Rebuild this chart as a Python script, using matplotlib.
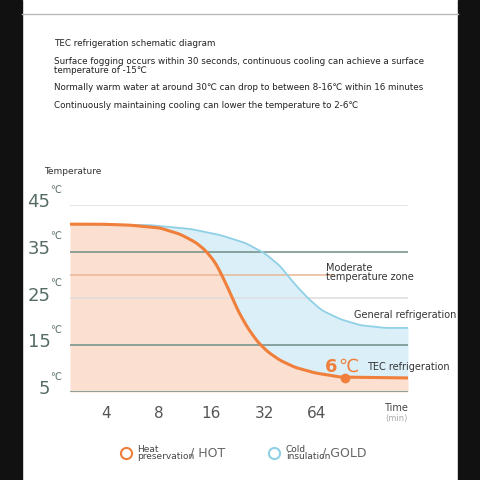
import numpy as np
import matplotlib.pyplot as plt
from matplotlib.patches import Rectangle

# data (x in tick units: 1=4min ... 5=64min)
tick_pos = [1, 2, 3, 4, 5]
tick_lab = ["4", "8", "16", "32", "64"]
temp_ticks = [45, 35, 25, 15, 5]

hot_x = [0.32, 0.89, 1.45, 2.02, 2.40, 2.69, 2.88, 3.07, 3.20, 3.35, 3.50, 3.69, 3.88,
         4.07, 4.30, 4.58, 4.96, 5.44, 6.73]
hot_t = [40.9, 40.9, 40.7, 40.1, 38.8, 37.1, 35.4, 32.8, 30.0, 26.4, 22.5, 18.7, 15.7,
         13.6, 11.8, 10.3, 9.1, 8.2, 8.0]
cold_x = [0.32, 1.83, 2.59, 3.16, 3.64, 4.01, 4.30, 4.58, 4.83, 5.09, 5.44, 5.82, 6.29, 6.73]
cold_t = [40.9, 40.7, 39.9, 38.6, 36.9, 34.7, 32.0, 28.1, 25.1, 22.5, 20.6, 19.3, 18.7, 18.7]

orange = "#f07f3c"
blue = "#8fd0e6"

fig = plt.figure(figsize=(4.8, 4.8), dpi=100)
fig.patch.set_facecolor("white")
fig.patches.append(Rectangle((0, 0), 22/480, 1, transform=fig.transFigure, color="#111", zorder=0))
fig.patches.append(Rectangle((458/480, 0), 22/480, 1, transform=fig.transFigure, color="#111", zorder=0))
fig.lines.append(plt.Line2D([22/480, 458/480], [1-14/480]*2, transform=fig.transFigure, color="#bbb", lw=1))

ax = fig.add_axes([70/480, 1-392/480, 338/480, 187/480])
ax.set_xlim(0.32, 6.73)
ax.set_ylim(5, 45)
ax.axis("off")

xs = np.linspace(0.32, 6.73, 400)
h = np.interp(xs, hot_x, hot_t)
c = np.interp(xs, cold_x, cold_t)
# light smoothing of the drawn curves
k = np.ones(9) / 9
h = np.convolve(np.pad(h, 4, mode="edge"), k, mode="valid")
c = np.convolve(np.pad(c, 4, mode="edge"), k, mode="valid")
ax.fill_between(xs, 5, h, color="#fbd9c6", alpha=0.8, lw=0)
ax.fill_between(xs, h, c, color="#d6eef8", alpha=0.9, lw=0)

for t in temp_ticks:
    col = "#6f8d85" if t in (35, 15, 5) else "#dddddd"
    ax.axhline(t, color=col, lw=1.1)
ax.plot([0.32, 5.3], [30, 30], color="#e9b797", lw=1.1)

ax.plot(xs, c, color=blue, lw=1.3)
ax.plot(xs, h, color=orange, lw=2.2)
ax.plot([5.53], [8], "o", color=orange, ms=6)

for p, l in zip(tick_pos, tick_lab):
    ax.text(p, 0.5, l, ha="center", va="center", fontsize=11, color="#555")
for t in temp_ticks:
    ax.text(-0.05, t + 0.6, str(t), ha="right", va="center", fontsize=13, color="#556b66")
    ax.text(-0.05, t + 2.2, "℃", ha="left", va="bottom", fontsize=7, color="#556b66")

ax.text(6.73, 0.5, "Time", ha="right", va="bottom", fontsize=7, color="#444")
ax.text(6.73, 0.2, "(min)", ha="right", va="top", fontsize=6, color="#aaa")
ax.text(5.17, 30.5, "Moderate\ntemperature zone", fontsize=7, color="#333", va="center", linespacing=0.9)
ax.text(5.7, 20.9, "General refrigeration", fontsize=7, color="#333")
ax.text(5.15, 9.3, "6", fontsize=13, color=orange, weight="bold")
ax.text(5.4, 9.3, "℃", fontsize=13, color=orange)
ax.text(5.95, 9.6, "TEC refrigeration", fontsize=7, color="#333")

fig.text(44/480, 1-172/480, "Temperature", fontsize=6.5, color="#333", va="center")

lines = ["TEC refrigeration schematic diagram",
         "Surface fogging occurs within 30 seconds, continuous cooling can achieve a surface\ntemperature of -15℃",
         "Normally warm water at around 30℃ can drop to between 8-16℃ within 16 minutes",
         "Continuously maintaining cooling can lower the temperature to 2-6℃"]
ys = [43, 66, 88, 106]
for y, s in zip(ys, lines):
    fig.text(54/480, 1-y/480, s, fontsize=6.3, color="#222", va="center", linespacing=0.95)

# legend
lax = fig.add_axes([0, 0, 1, 1], facecolor="none")
lax.set_xlim(0, 480); lax.set_ylim(480, 0); lax.axis("off")
lax.plot(126, 453, "o", mfc="none", mec=orange, ms=8, mew=1.5)
lax.text(137, 453, "Heat\npreservation", fontsize=6.5, va="center", color="#444", linespacing=0.8)
lax.text(190, 453, "/ HOT", fontsize=9, va="center", color="#666")
lax.plot(274, 453, "o", mfc="none", mec=blue, ms=8, mew=1.5)
lax.text(286, 453, "Cold\ninsulation", fontsize=6.5, va="center", color="#444", linespacing=0.8)
lax.text(322, 453, "/ GOLD", fontsize=9, va="center", color="#666")

fig.savefig("out.png", dpi=100)
